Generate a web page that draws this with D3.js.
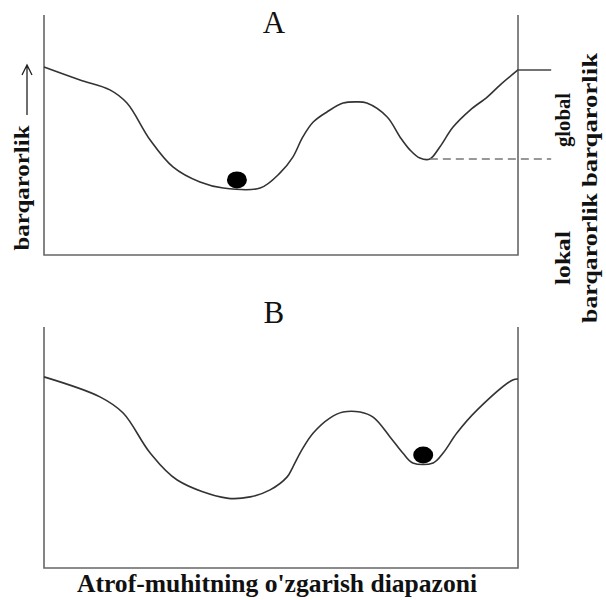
<!DOCTYPE html>
<html>
<head>
<meta charset="utf-8">
<script src="https://cdn.jsdelivr.net/npm/d3@7"></script>
<style>
  body { margin: 0; background: #fff; }
  text { font-family: "Liberation Serif", "Times New Roman", Times, serif; fill: #111; }
</style>
</head>
<body>
<div id="chart"></div>
<script>
// egri chiziq A (x: muhit o'zgarishi, y: barqarorlik), 0..100
const curveAx = [0, 7.6, 13.9, 17.5, 22.4, 27.2, 32.9, 37.8, 45.6, 49.8, 52.5, 54.6, 56.8, 59.7, 63.1, 66, 68.1, 72.4, 75.1, 77.2, 79.3, 81.4, 83.5, 86.3, 89.9, 93.5, 96.2, 100];
const curveAy = [78.3, 72.9, 68.8, 63.3, 47.9, 36.7, 30.4, 27.9, 27.9, 34.2, 40.8, 49.2, 55.4, 59.6, 63.3, 63.8, 63.3, 57.5, 49.2, 43.8, 40.4, 40, 45, 53.3, 60.4, 65.8, 70.8, 77.1];
// egri chiziq B
const curveBx = [0, 11.8, 16.7, 22.4, 28.1, 38.6, 43.5, 47.7, 51.3, 52.5, 54.4, 56.8, 60.3, 63.1, 66.7, 69.5, 73, 75.7, 77.8, 82.1, 84.2, 87.1, 91.4, 98.9, 100];
const curveBy = [79.3, 71, 64.3, 47.7, 36.5, 29, 29.5, 32.4, 37.8, 41.9, 49, 56, 62.2, 64.7, 64.7, 62.5, 54.4, 47.7, 43.6, 43.6, 47.7, 56, 65.6, 78, 78.4];
// sharcha (ball) holati
const ballA = [40.7, 31.3];
const ballB = [80, 46.9];
// darajalar: global va lokal barqarorlik
const globalLevel = 77.1;
const localLevel = 40;
const labelsA = ["global", "barqarorlik"];
const labelsB = ["lokal", "barqarorlik"];

const width = 606, height = 600;

const svg = d3.select("#chart")
  .append("svg")
  .attr("width", width)
  .attr("height", height);

const x = d3.scaleLinear().domain([0, 100]).range([44, 518]);
const yA = d3.scaleLinear().domain([0, 100]).range([255, 15]);
const yB = d3.scaleLinear().domain([0, 100]).range([568, 327]);

function panel(xs, ys, y, ball, title, titleY) {
  const g = svg.append("g");
  // o'qlar
  const box = [[0, 100], [0, 0], [100, 0], [100, 100]];
  g.append("path")
    .attr("d", d3.line().x(d => x(d[0])).y(d => y(d[1]))(box))
    .attr("fill", "none")
    .attr("stroke", "#666")
    .attr("stroke-width", 1.6);

  const pts = xs.map((v, i) => [v, ys[i]]);
  g.append("path")
    .attr("d", d3.line().x(d => x(d[0])).y(d => y(d[1])).curve(d3.curveCatmullRom.alpha(0.5))(pts))
    .attr("fill", "none")
    .attr("stroke", "#333")
    .attr("stroke-width", 1.6);

  g.append("ellipse")
    .attr("cx", x(ball[0]))
    .attr("cy", y(ball[1]))
    .attr("rx", 10)
    .attr("ry", 8.5)
    .attr("fill", "#000");

  g.append("text")
    .attr("x", x(48.5))
    .attr("y", titleY)
    .attr("text-anchor", "middle")
    .style("font-size", "31px")
    .text(title);
  return g;
}

const gA = panel(curveAx, curveAy, yA, ballA, "A", 33);
panel(curveBx, curveBy, yB, ballB, "B", 323);

// global daraja chizig'i
gA.append("line")
  .attr("x1", x(99.8)).attr("x2", x(107))
  .attr("y1", yA(globalLevel)).attr("y2", yA(globalLevel))
  .attr("stroke", "#444").attr("stroke-width", 1.5);

// lokal daraja (uzuq chiziq)
gA.append("line")
  .attr("x1", x(81.4)).attr("x2", x(107))
  .attr("y1", yA(localLevel)).attr("y2", yA(localLevel))
  .attr("stroke", "#777").attr("stroke-width", 1.6)
  .attr("stroke-dasharray", "8,5");

// chap yorliq
svg.append("text")
  .attr("transform", "translate(29,188) rotate(-90)")
  .attr("text-anchor", "middle")
  .style("font-size", "22px")
  .style("font-weight", "bold")
  .attr("textLength", 125)
  .attr("lengthAdjust", "spacingAndGlyphs")
  .text("barqarorlik");

// strelka
svg.append("path")
  .attr("d", "M27,115 L27,66 M22,75 L27,65 L32,75")
  .attr("fill", "none")
  .attr("stroke", "#222")
  .attr("stroke-width", 1.3);

// o'ng yorliqlar
function sideLabel(lines, cy, lens) {
  const t = svg.append("g").attr("transform", `translate(0,${cy})`);
  t.append("text")
    .attr("transform", "translate(570,0) rotate(-90)")
    .attr("text-anchor", "middle")
    .style("font-size", "22px").style("font-weight", "bold")
    .attr("textLength", lens[0]).attr("lengthAdjust", "spacingAndGlyphs")
    .text(lines[0]);
  t.append("text")
    .attr("transform", "translate(597,0) rotate(-90)")
    .attr("text-anchor", "middle")
    .style("font-size", "22px").style("font-weight", "bold")
    .attr("textLength", lens[1]).attr("lengthAdjust", "spacingAndGlyphs")
    .text(lines[1]);
}
sideLabel(labelsA, 120, [54, 134]);
sideLabel(labelsB, 258, [54, 130]);

// pastki yorliq
svg.append("text")
  .attr("x", 277)
  .attr("y", 592)
  .attr("text-anchor", "middle")
  .style("font-size", "25px")
  .style("font-weight", "bold")
  .attr("textLength", 400)
  .attr("lengthAdjust", "spacingAndGlyphs")
  .text("Atrof-muhitning o'zgarish diapazoni");
</script>
</body>
</html>
